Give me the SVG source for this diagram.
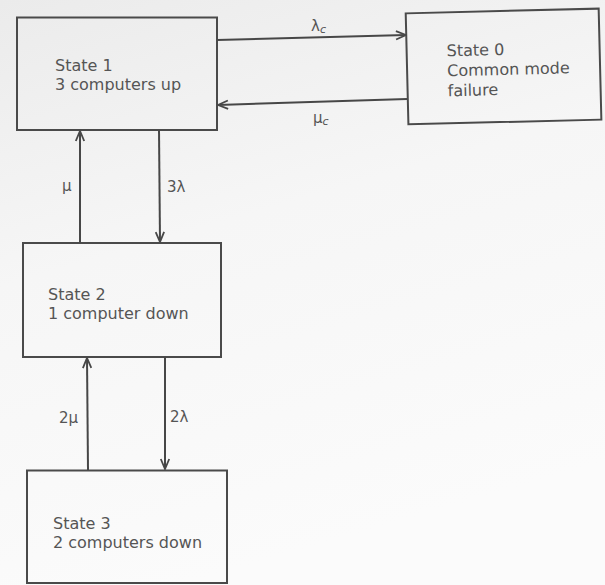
<svg xmlns="http://www.w3.org/2000/svg" width="605" height="585" viewBox="0 0 605 585">
  <defs>
    <linearGradient id="bg" x1="0" y1="0" x2="0.3" y2="1">
      <stop offset="0" stop-color="#ebebeb"/>
      <stop offset="0.45" stop-color="#f6f6f6"/>
      <stop offset="1" stop-color="#fbfbfb"/>
    </linearGradient>
    <marker id="arr" viewBox="0 0 12 12" refX="11" refY="6" markerWidth="12" markerHeight="12" orient="auto" markerUnits="userSpaceOnUse">
      <path d="M1,1.8 L11,6 L1,10.2" fill="none" stroke="#474747" stroke-width="1.8"/>
    </marker>
  </defs>
  <style>
    .box { fill: none; stroke: #4a4a4a; stroke-width: 2; }
    .txt { font-family: "DejaVu Sans", "Liberation Sans", sans-serif; font-size: 16px; fill: #555; }
    .lbl { font-family: "DejaVu Sans", "Liberation Sans", sans-serif; font-size: 15px; fill: #555; }
    .sub { font-size: 11px; font-style: italic; }
    .con { fill: none; stroke: #474747; stroke-width: 2; marker-end: url(#arr); }
  </style>
  <rect x="0" y="0" width="605" height="585" fill="url(#bg)"/>

  <g id="state1">
    <rect class="box" x="17" y="17.5" width="200" height="112.5"/>
    <text class="txt" x="55" y="71">State 1</text>
    <text class="txt" x="55" y="90">3 computers up</text>
  </g>

  <g id="state0" transform="rotate(-1.4 503 65)">
    <rect class="box" x="407" y="11" width="193" height="111"/>
    <text class="txt" x="447" y="55">State 0</text>
    <text class="txt" x="447" y="75">Common mode</text>
    <text class="txt" x="447" y="95">failure</text>
  </g>

  <g id="state2">
    <rect class="box" x="23" y="243" width="198" height="114"/>
    <text class="txt" x="48" y="300">State 2</text>
    <text class="txt" x="48" y="319">1 computer down</text>
  </g>

  <g id="state3">
    <rect class="box" x="27" y="470.5" width="200" height="112.5"/>
    <text class="txt" x="53" y="529">State 3</text>
    <text class="txt" x="53" y="548">2 computers down</text>
  </g>

  <g id="connectors">
    <line class="con" x1="217" y1="40" x2="406" y2="35"/>
    <line class="con" x1="407" y1="99" x2="218" y2="105"/>
    <line class="con" x1="80" y1="243" x2="80" y2="131"/>
    <line class="con" x1="159" y1="130" x2="160" y2="242"/>
    <line class="con" x1="88" y1="470" x2="87" y2="358"/>
    <line class="con" x1="165" y1="357" x2="165" y2="469"/>
  </g>

  <g id="labels">
    <text class="lbl" x="311" y="31">λ<tspan class="sub" dy="2">c</tspan></text>
    <text class="lbl" x="313" y="123">μ<tspan class="sub" dy="2">c</tspan></text>
    <text class="lbl" x="62" y="191">μ</text>
    <text class="lbl" x="167" y="192">3λ</text>
    <text class="lbl" x="59" y="423">2μ</text>
    <text class="lbl" x="170" y="422">2λ</text>
  </g>
</svg>
